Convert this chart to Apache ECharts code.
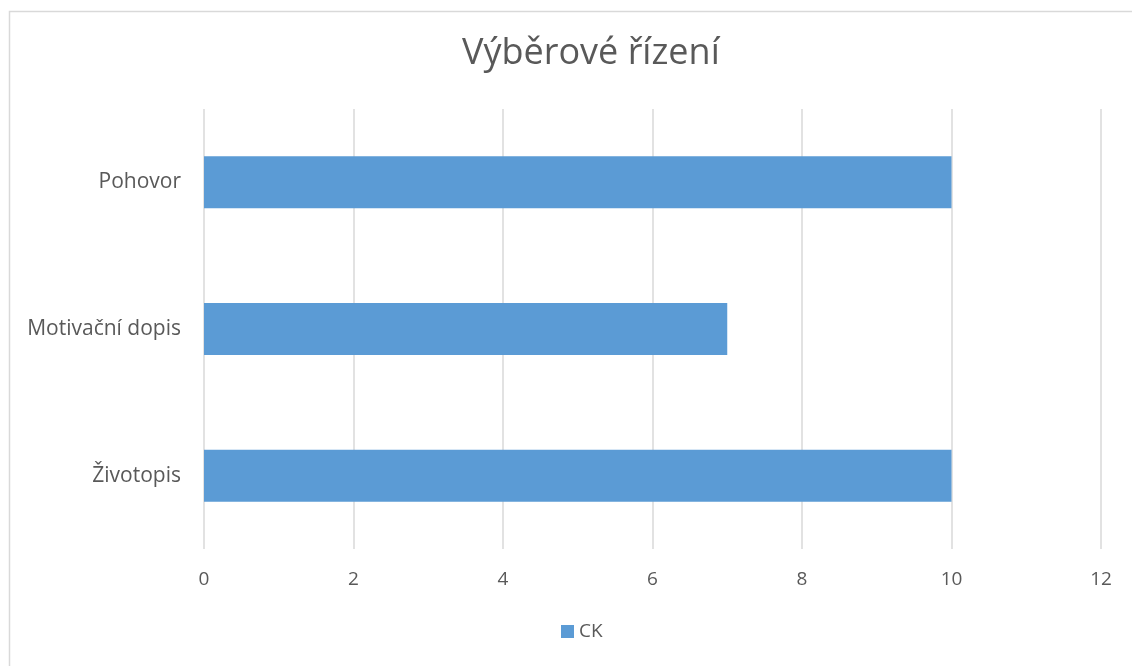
<!DOCTYPE html>
<html>
<head>
    <meta charset="utf-8">
    <script src="https://cdn.jsdelivr.net/npm/echarts@6/dist/echarts.min.js"></script>
    <style>
        html, body { margin: 0; padding: 0; background: #fff; }
        #container { width: 1132px; height: 666px; }
    </style>
</head>
<body>
<div id="container"></div>
<script>
    // data
    var categories = ['Životopis', 'Motivační dopis', 'Pohovor'];
    var seriesName = 'CK';
    var values = [10, 7, 10];
    var xTicks = [0, 2, 4, 6, 8, 10, 12];

    var font = '"Open Sans", sans-serif';
    var myChart = echarts.init(document.getElementById('container'));

    var option = {
        animation: false,
        textStyle: { fontFamily: font },
        graphic: [{
            type: 'rect',
            shape: { x: 9.5, y: 11.5, width: 1200, height: 800 },
            style: { fill: 'none', stroke: '#d9d9d9', lineWidth: 1.5 },
            silent: true
        }],
        title: {
            text: 'Výběrové řízení',
            left: 457,
            top: 31,
            textStyle: { fontFamily: font, fontSize: 36, fontWeight: 'normal', color: '#595959' }
        },
        legend: {
            data: [seriesName],
            bottom: 20,
            left: 556,
            itemWidth: 13,
            itemHeight: 13,
            itemGap: 6,
            icon: 'rect',
            textStyle: { fontFamily: font, fontSize: 19, color: '#595959' }
        },
        grid: {
            left: 204,
            right: 31,
            top: 109,
            bottom: 117,
            containLabel: false
        },
        xAxis: {
            type: 'value',
            min: xTicks[0],
            max: xTicks[xTicks.length - 1],
            interval: 2,
            axisLine: { show: false },
            axisTick: { show: false },
            axisLabel: { color: '#595959', fontSize: 19, margin: 21, fontFamily: font },
            splitLine: { show: true, lineStyle: { color: '#d9d9d9', width: 1.5 } }
        },
        yAxis: {
            type: 'category',
            data: categories,
            axisLine: { show: false },
            axisTick: { show: false },
            axisLabel: { color: '#595959', fontSize: 21, margin: 23, fontFamily: font }
        },
        series: [{
            name: seriesName,
            type: 'bar',
            data: values,
            barWidth: 52,
            itemStyle: { color: '#5b9bd5' }
        }]
    };
    myChart.setOption(option);
</script>
</body>
</html>
